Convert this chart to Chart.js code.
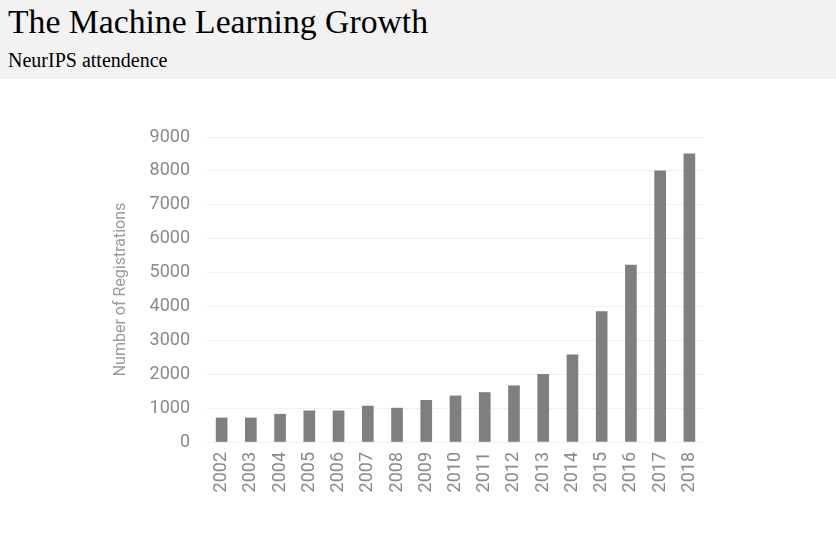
<!DOCTYPE html>
<html>
<head>
<meta charset="utf-8">
<script src="https://cdn.jsdelivr.net/npm/chart.js@4"></script>
<style>
  body { margin: 0; background: #fff; width: 836px; height: 554px; overflow: hidden; }
  #header { position: absolute; left: 0; top: 0; width: 836px; height: 79px; background: #f2f2f2;
            font-family: "Liberation Serif", "Times New Roman", serif; color: #000; }
  #title { position: absolute; left: 8px; top: 3px; font-size: 33.7px; white-space: nowrap; }
  #subtitle { position: absolute; left: 8px; top: 49px; font-size: 20px; white-space: nowrap; }
  #chart-box { position: absolute; left: 0; top: 80px; width: 836px; height: 474px; }
</style>
</head>
<body>
<div id="header">
  <div id="title">The Machine Learning Growth</div>
  <div id="subtitle">NeurIPS attendence</div>
</div>
<div id="chart-box"><canvas id="bar-chart"></canvas></div>
<script>
// values
const years = ['2002', '2003', '2004', '2005', '2006', '2007', '2008', '2009', '2010',
               '2011', '2012', '2013', '2014', '2015', '2016', '2017', '2018'];
const registrations = [710, 710, 820, 920, 920, 1060, 1000, 1230, 1360,
                       1460, 1660, 2000, 2570, 3850, 5220, 8000, 8500];
const yTicks = [0, 1000, 2000, 3000, 4000, 5000, 6000, 7000, 8000, 9000];

const ctx = document.getElementById('bar-chart').getContext('2d');
new Chart(ctx, {
    type: 'bar',
    data: {
        labels: years,
        datasets: [{
            label: 'Number of Registrations',
            data: registrations,
            backgroundColor: '#7f7f80',
            barThickness: 11
        }]
    },
    options: {
        responsive: true,
        maintainAspectRatio: false,
        animation: false,
        layout: { padding: { left: 111, right: 132, top: 57, bottom: 0 } },
        plugins: { legend: { display: false }, tooltip: { enabled: false } },
        scales: {
            x: {
                grid: { display: false, drawTicks: false },
                border: { display: false },
                ticks: {
                    color: '#8a8a8a',
                    font: { family: 'Roboto', size: 18 },
                    minRotation: 90, maxRotation: 90,
                    padding: 10,
                    autoSkip: false
                },
                afterFit: (scale) => { scale.height = 112; }
            },
            y: {
                min: 0, max: 9000,
                afterBuildTicks: (scale) => { scale.ticks = yTicks.map(v => ({ value: v })); },
                grid: { color: '#f0f0f0', drawTicks: false },
                border: { display: false },
                ticks: {
                    color: '#8a8a8a',
                    font: { family: 'Roboto', size: 18 },
                    padding: 17,
                    callback: (v) => String(v)
                },
                title: {
                    display: true,
                    text: 'Number of Registrations',
                    color: '#9a9a9a',
                    font: { family: 'Roboto', size: 16 },
                    padding: 0
                },
                afterFit: (scale) => { scale.width = 96; }
            }
        }
    }
});
</script>
</body>
</html>
